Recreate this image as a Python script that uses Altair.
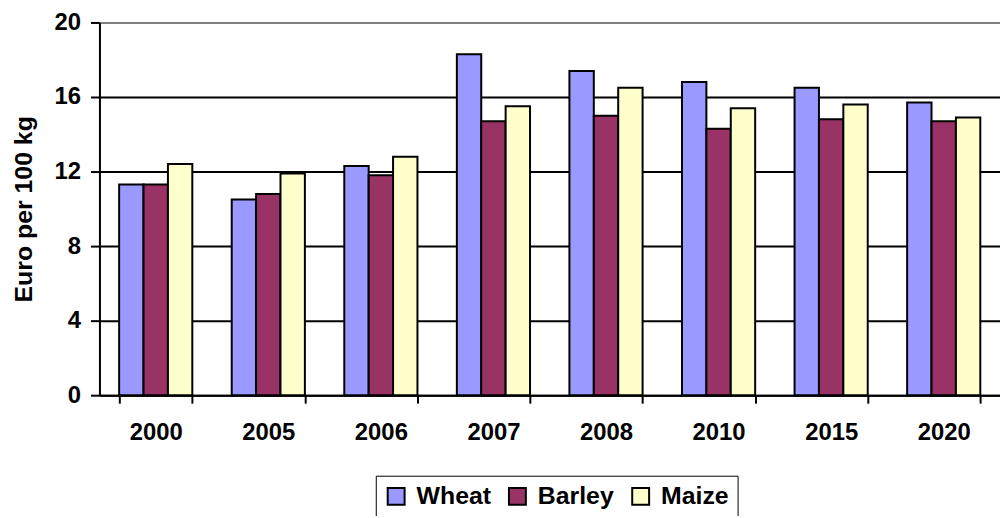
import altair as alt
import pandas as pd

years = ["2000", "2005", "2006", "2007", "2008", "2010", "2015", "2020"]
crops = ["Wheat", "Barley", "Maize"]
wheat = [11.3, 10.5, 12.3, 18.3, 17.4, 16.8, 16.5, 15.7]
barley = [11.3, 10.8, 11.8, 14.7, 15.0, 14.3, 14.8, 14.7]
maize = [12.4, 11.9, 12.8, 15.5, 16.5, 15.4, 15.6, 14.9]
colors = ["#9999FF", "#993366", "#FFFFCC"]
y_ticks = [0, 4, 8, 12, 16, 20]

rows = []
for crop, vals in zip(crops, [wheat, barley, maize]):
    for yr, v in zip(years, vals):
        rows.append({"Year": yr, "Crop": crop, "Price": v})
df = pd.DataFrame(rows)

FONT = "Liberation Sans"

chart = alt.Chart(df).mark_bar(stroke="black", strokeWidth=2).encode(
    x=alt.X(
        "Year:N",
        sort=years,
        scale=alt.Scale(paddingInner=0.35, paddingOuter=0.175),
        axis=alt.Axis(
            title=None,
            labelAngle=0,
            tickBand="extent",
            tickSize=8,
            tickWidth=2,
            tickColor="black",
            domainColor="black",
            domainWidth=2,
            labelFont=FONT,
            labelFontSize=24,
            labelFontWeight="bold",
            labelColor="black",
            labelPadding=18,
        ),
    ),
    xOffset=alt.XOffset("Crop:N", sort=crops, scale=alt.Scale(paddingInner=0, paddingOuter=0)),
    y=alt.Y(
        "Price:Q",
        scale=alt.Scale(domain=[0, 20], nice=False),
        axis=alt.Axis(
            values=y_ticks,
            title="Euro per 100 kg",
            titleFont=FONT,
            titleFontSize=25,
            titleFontWeight="bold",
            titleColor="black",
            titlePadding=18,
            labelFont=FONT,
            labelFontSize=24,
            labelFontWeight="bold",
            labelColor="black",
            labelPadding=10,
            tickSize=9,
            tickWidth=2,
            tickColor="black",
            domainColor="black",
            domainWidth=2,
            grid=True,
            gridColor={"condition": {"test": "datum.value == 20", "value": "#808080"}, "value": "black"},
            gridWidth=2,
            gridOpacity=1,
        ),
    ),
    color=alt.Color(
        "Crop:N",
        sort=crops,
        scale=alt.Scale(domain=crops, range=colors),
        legend=alt.Legend(
            title=None,
            orient="none",
            legendX=278,
            legendY=456,
            direction="horizontal",
            symbolType="square",
            symbolSize=289,
            symbolStrokeColor="black",
            symbolStrokeWidth=2,
            symbolOpacity=1,
            labelFont=FONT,
            labelFontSize=25,
            labelFontWeight="bold",
            labelColor="black",
            labelOffset=8,
            columnPadding=14,
            padding=8,
            strokeColor="black",
        ),
    ),
).properties(
    width=906,
    height=375,
    autosize=alt.AutoSizeParams(type="none"),
    padding={"left": 92, "top": 13, "right": 0, "bottom": 120},
).configure_view(stroke=None)

chart.save("out.html", embed_options={"renderer": "svg", "actions": False})
